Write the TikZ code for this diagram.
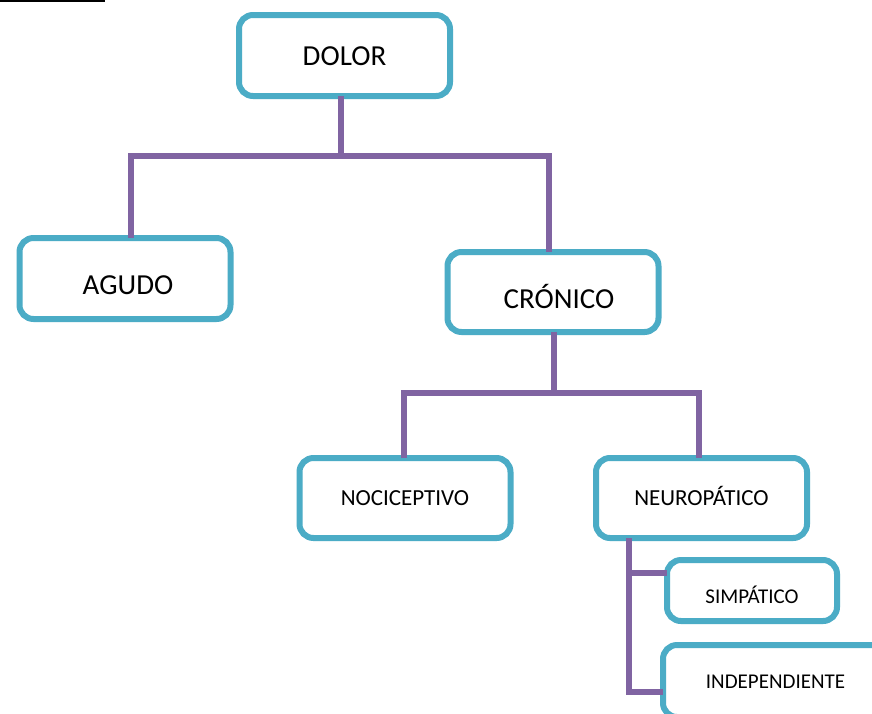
\documentclass[tikz,border=0pt]{standalone}
\usepackage{fontspec}
\setmainfont{Carlito}
\definecolor{boxc}{HTML}{4BACC6}
\definecolor{linec}{HTML}{8064A2}
\newcommand{\lowtx}[2]{\raisebox{-#1pt}[0pt][0pt]{#2}}
\begin{document}
\begin{tikzpicture}[x=1pt,y=-1pt,
  box/.style={draw=boxc, line width=6pt, rounded corners=14pt, fill=white,
    inner sep=0pt, outer sep=0pt, minimum width=#1, text=black},
  box/.default=211pt,
  conn/.style={draw=linec, line width=5.5pt, line join=miter}]
\useasboundingbox (0,0) rectangle (872,713);
\clip (0,0) rectangle (872,713);
\fill[white] (0,0) rectangle (872,713);
\draw[black, line width=1.5pt] (0,1) -- (105,1);
% boxes
\node[box, minimum height=81pt, font=\fontsize{29}{30}\selectfont] (dolor) at (344.5,55.5) {\lowtx{10}{DOLOR}};
\node[box, minimum height=81pt, font=\fontsize{29}{30}\selectfont] (agudo) at (125,278.5) {\lowtx{15.8}{\hspace*{6pt}AGUDO}};
\node[box, minimum height=80pt, font=\fontsize{29}{30}\selectfont] (cronico) at (553,292) {\lowtx{16.3}{\hspace*{12pt}CRÓNICO}};
\node[box, minimum height=80pt, font=\fontsize{23}{24}\selectfont] (noci) at (405,498) {\lowtx{7.4}{NOCICEPTIVO}};
\node[box, minimum height=80pt, font=\fontsize{23}{24}\selectfont] (neuro) at (701.5,498) {\lowtx{7}{NEUROPÁTICO}};
\node[box=170pt, minimum height=61pt, font=\fontsize{21}{22}\selectfont] (simp) at (752,590.5) {\lowtx{13.3}{SIMPÁTICO}};
\node[box=225pt, minimum height=72pt, font=\fontsize{21}{22}\selectfont, anchor=north west] (indep) at (663,645) {\lowtx{7.8}{INDEPENDIENTE}};
% connector coordinates
\coordinate (j1) at (341,156);
\coordinate (a1) at (131,156);
\coordinate (c1) at (549,156);
\coordinate (j2) at (554,393);
\coordinate (n1) at (404,393);
\coordinate (n2) at (699,393);
\coordinate (v1) at (629,573);
\coordinate (v2) at (629,692);
% connectors
\draw[conn] (j1 |- dolor.south) -- (j1);
\draw[conn] (a1 |- agudo.north) -- (a1) -- (c1) -- (c1 |- cronico.north);
\draw[conn] (j2 |- cronico.south) -- (j2);
\draw[conn] (n1 |- noci.north) -- (n1) -- (n2) -- (n2 |- neuro.north);
\draw[conn] (v1 |- neuro.south) -- (v2) -- (v2 -| indep.west);
\draw[conn] (v1) -- (v1 -| simp.west);
\end{tikzpicture}
\end{document}
